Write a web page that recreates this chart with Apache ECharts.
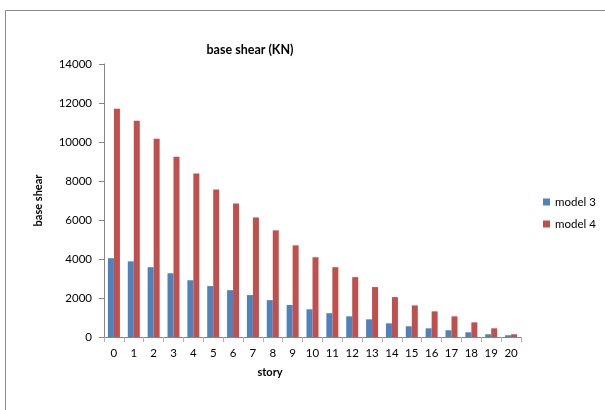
<!DOCTYPE html>
<html>
<head>
<meta charset="utf-8">
<script src="https://cdn.jsdelivr.net/npm/echarts@6/dist/echarts.min.js"></script>
<style>html,body{margin:0;padding:0;background:#fff}#c{width:605px;height:410px}</style>
</head>
<body>
<div id="c"></div>
<script>
var categories = ['0','1','2','3','4','5','6','7','8','9','10','11','12','13','14','15','16','17','18','19','20'];
var model3 = [4040, 3880, 3580, 3270, 2910, 2610, 2400, 2150, 1890, 1640, 1420, 1220, 1060, 905, 700, 550, 445, 345, 240, 140, 90];
var model4 = [11700, 11090, 10170, 9250, 8380, 7560, 6850, 6130, 5470, 4700, 4090, 3580, 3070, 2560, 2045, 1620, 1315, 1060, 750, 445, 140];
var yTicks = [0, 2000, 4000, 6000, 8000, 10000, 12000, 14000];

var FONT = 'Lato';
var chart = echarts.init(document.getElementById('c'));
chart.setOption({
  animation: false,
  backgroundColor: '#ffffff',
  textStyle: { fontFamily: FONT },
  grid: { left: 104, top: 64, right: 84, bottom: 73, containLabel: false },
  legend: {
    orient: 'vertical', left: 538, top: 191, itemGap: 10, itemSpacing: 4,
    icon: 'rect', itemWidth: 7, itemHeight: 7,
    textStyle: { fontFamily: FONT, fontSize: 11.5, color: '#000' },
    data: ['model 3', 'model 4']
  },
  xAxis: {
    type: 'category', data: categories,
    axisLine: { lineStyle: { color: '#868686' } },
    axisTick: { show: true, length: 5, lineStyle: { color: '#b0b0b0' } },
    axisLabel: { fontFamily: FONT, fontSize: 11.5, color: '#000', margin: 10, interval: 0 }
  },
  yAxis: {
    type: 'value', min: yTicks[0], max: yTicks[yTicks.length - 1], interval: 2000,
    name: 'base shear', nameLocation: 'middle', nameGap: 60,
    nameTextStyle: { fontFamily: FONT, fontSize: 11, fontWeight: 'bold', color: '#000' },
    axisLine: { show: true, lineStyle: { color: '#868686' } },
    axisTick: { show: true, length: 5, lineStyle: { color: '#868686' } },
    splitLine: { show: false },
    axisLabel: { fontFamily: FONT, fontSize: 11.5, color: '#000', margin: 12, formatter: function (v) { return String(v); } }
  },
  series: [
    { name: 'model 3', type: 'bar', data: model3, barWidth: 6, barGap: '0%', itemStyle: { color: '#4F81BD' } },
    { name: 'model 4', type: 'bar', data: model4, barWidth: 6, barGap: '0%', itemStyle: { color: '#C0504D' } }
  ],
  graphic: [
    { type: 'rect', shape: { x: 5.5, y: 10.5, width: 700, height: 500 }, style: { fill: 'none', stroke: '#8a8a8a', lineWidth: 1 }, silent: true, z: -1 },
    { type: 'text', x: 250, y: 50, style: { text: 'base shear (KN)', textAlign: 'center', textVerticalAlign: 'middle', font: 'bold 12.5px ' + FONT, fill: '#000' } },
    { type: 'text', x: 270, y: 372, style: { text: 'story', textAlign: 'center', textVerticalAlign: 'middle', font: 'bold 11px ' + FONT, fill: '#000' } }
  ]
});
</script>
</body>
</html>
